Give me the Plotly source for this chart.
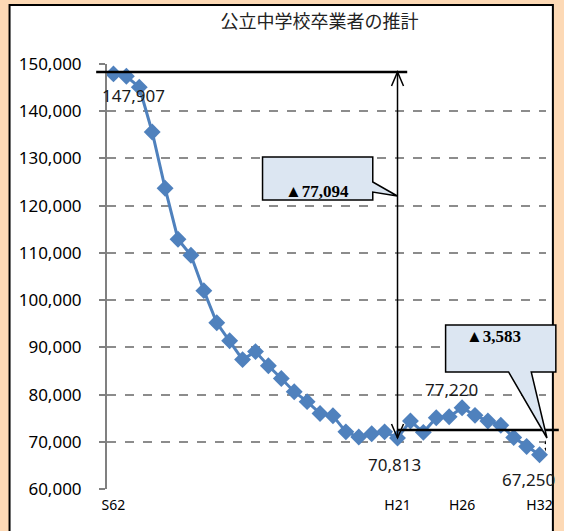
import plotly.graph_objects as go

# 公立中学校卒業者数 (S62 .. H32)
years = ["S62", "S63", "H1", "H2", "H3", "H4", "H5", "H6", "H7", "H8", "H9",
         "H10", "H11", "H12", "H13", "H14", "H15", "H16", "H17", "H18", "H19",
         "H20", "H21", "H22", "H23", "H24", "H25", "H26", "H27", "H28", "H29",
         "H30", "H31", "H32"]
graduates = [147907, 147400, 145100, 135600, 123700, 112900, 109500, 102000,
             95200, 91400, 87400, 89100, 86100, 83400, 80600, 78500, 76000,
             75500, 72100, 71000, 71700, 72100, 70813, 74400, 72000, 75100,
             75300, 77220, 75600, 74400, 73500, 70900, 69000, 67250]
tick_labels = ["S62", "H21", "H26", "H32"]
labelled = {"S62": (20, -22), "H21": (-3, -27), "H26": (-11, 18), "H32": (-11, -25)}
drop_total = "▲77,094"
drop_recent = "▲3,583"

x = list(range(len(years)))
BLUE = "#4F81BD"
CALLOUT = "#DCE6F2"
PEACH = "#FDD9B5"

fig = go.Figure()
fig.add_trace(go.Scatter(
    x=x, y=graduates, mode="lines+markers",
    line=dict(color=BLUE, width=3),
    marker=dict(symbol="diamond", size=13, color=BLUE),
    hoverinfo="skip", showlegend=False, cliponaxis=False
))

# pixel -> paper helpers (plot area 107..553 x, 64..489 y)
L, R, T, B = 107, 553, 64, 489
def px(v): return (v - L) / (R - L)
def py(v): return (B - v) / (B - T)

shapes = []
# white chart area with black frame
shapes.append(dict(type="rect", xref="paper", yref="paper", layer="below",
                   x0=px(8), x1=px(560), y0=py(5), y1=py(540),
                   fillcolor="white", line=dict(color="black", width=2)))

i21 = years.index("H21")
top_level = max(graduates) + 400
low_level = 72500
# horizontal reference lines
shapes.append(dict(type="line", xref="paper", yref="y", x0=px(96), x1=px(412),
                   y0=top_level, y1=top_level, line=dict(color="black", width=2.5)))
shapes.append(dict(type="line", xref="x", yref="y", x0=i21, x1=len(years) - 0.2,
                   y0=low_level, y1=low_level, line=dict(color="black", width=2.5)))
shapes.append(dict(type="line", xref="paper", yref="y", x0=px(553), x1=px(566),
                   y0=low_level, y1=low_level, line=dict(color="black", width=2.5)))
# vertical double arrow at H21
shapes.append(dict(type="line", xref="x", yref="y", x0=i21, x1=i21,
                   y0=top_level, y1=graduates[i21], line=dict(color="black", width=1.5)))
# small double arrow at right
rx = len(years) - 0.1
shapes.append(dict(type="line", xref="x", yref="y", x0=rx, x1=rx,
                   y0=low_level, y1=graduates[-1] - 1500, line=dict(color="black", width=1.5)))

def vhead(xa, ya, up, xref="x"):
    s = -1 if up else 1
    return dict(type="path", xref=xref, yref="y", xsizemode="pixel", ysizemode="pixel",
                xanchor=xa, yanchor=ya,
                path=f"M -6,{s*14} L 0,0 L 6,{s*14}",
                line=dict(color="black", width=1.5))

shapes.append(vhead(i21, top_level, True))
shapes.append(vhead(i21, graduates[i21], False))
shapes.append(vhead(rx, low_level, True))
shapes.append(vhead(rx, graduates[-1] - 1500, False))

# callout boxes
def callout(pts):
    d = "M " + " L ".join(f"{px(a):.4f},{py(b):.4f}" for a, b in pts) + " Z"
    return dict(type="path", xref="paper", yref="paper", path=d,
                fillcolor=CALLOUT, line=dict(color="black", width=1.5))

shapes.append(callout([(265, 157), (377, 157), (377, 182), (402, 196),
                       (377, 192), (377, 200), (265, 200)]))
shapes.append(callout([(451, 325), (563, 325), (563, 372), (538, 372),
                       (554, 438), (515, 372), (451, 372)]))

annotations = [
    dict(xref="paper", yref="paper", x=px(286), y=py(180), xanchor="left",
         text=f"<b>{drop_total}</b>", showarrow=False,
         font=dict(family="Liberation Serif", size=17, color="black")),
    dict(xref="paper", yref="paper", x=px(470), y=py(348), xanchor="left",
         text=f"<b>{drop_recent}</b>", showarrow=False,
         font=dict(family="Liberation Serif", size=17, color="black")),
]
for lab, (dx, dy) in labelled.items():
    i = years.index(lab)
    annotations.append(dict(x=i, y=graduates[i], text=f"{graduates[i]:,}",
                            showarrow=False, xshift=dx, yshift=dy,
                            font=dict(family="Noto Sans", size=17, color="#1a1a1a")))

fig.update_layout(
    width=564, height=531,
    margin=dict(l=L, r=564 - R, t=T, b=531 - B),
    paper_bgcolor=PEACH, plot_bgcolor="white",
    title=dict(text="公立中学校卒業者の推計", x=px(323), xref="paper", xanchor="center",
               y=1 - 22 / 531, yanchor="middle",
               font=dict(family="Noto Sans CJK JP", size=18, color="#222")),
    shapes=shapes, annotations=annotations,
    font=dict(family="Noto Sans", color="black"),
)
fig.update_xaxes(range=[-0.5, len(years) - 0.5], showgrid=False, zeroline=False,
                 showline=False, tickmode="array",
                 tickvals=[years.index(t) for t in tick_labels], ticktext=tick_labels,
                 tickfont=dict(size=14, color="black"), ticks="", ticklabelstandoff=6)
fig.update_yaxes(range=[60000, 150000], dtick=10000, tickformat=",",
                 showgrid=True, gridcolor="#8c8c8c", griddash="dash", gridwidth=1.5,
                 zeroline=False, showline=True, linecolor="#808080", linewidth=2,
                 ticks="outside", ticklen=6, tickcolor="#808080", tickwidth=1.5,
                 tickfont=dict(size=17, color="black"), ticklabelstandoff=14)

fig.write_html("out.html", config={"displayModeBar": False},
               post_script="document.body.style.margin='0';")
